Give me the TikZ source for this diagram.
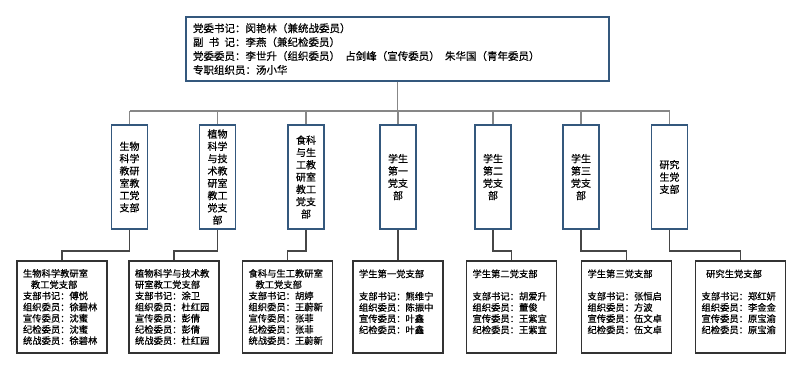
\documentclass[tikz,border=0pt]{standalone}
\usepackage{fontspec}
\setmainfont{Noto Sans CJK SC}[FakeBold=0.6]
\usetikzlibrary{calc}
\definecolor{boxblue}{RGB}{52,88,125}
\definecolor{bargray}{RGB}{135,135,135}
\definecolor{elbgray}{RGB}{70,70,70}
\definecolor{boxgray}{RGB}{50,50,50}
\tikzset{
  topbox/.style={draw=boxblue, line width=1.3pt, minimum width=423pt, minimum height=64pt,
    text width=409pt, inner xsep=7pt, align=left, font=\fontsize{10.5}{13.9}\selectfont},
  midbox/.style={draw=boxblue, line width=1.3pt, minimum width=36pt, minimum height=104pt,
    inner sep=0pt, align=center, font=\fontsize{10}{12.3}\selectfont},
  lowbox/.style={draw=boxgray, line width=1.1pt, minimum width=90pt, minimum height=92pt,
    text width=78pt, inner xsep=6pt, align=left, font=\fontsize{9.3}{11.2}\selectfont},
  barline/.style={draw=bargray, line width=1.2pt},
  elbline/.style={draw=elbgray, line width=1.2pt},
}
\begin{document}
\begin{tikzpicture}[x=1pt,y=-1pt]
\useasboundingbox (0,0) rectangle (799,368);
\node[topbox] (top) at (397.5,49) {党委书记：闵艳林（兼统战委员）\\
副\hspace{0.5em}书\hspace{0.5em}记：李燕（兼纪检委员）\\
党委委员：李世升（组织委员）\hspace{0.5em}占剑峰（宣传委员）\hspace{0.5em}朱华国（青年委员）\\
专职组织员：汤小华};

\node[midbox] (m1) at (129.5,177) {生物\\科学\\教研\\室教\\工党\\支部};
\node[midbox] (m2) at (217.5,177) {植物\\科学\\与技\\术教\\研室\\教工\\党支\\部};
\node[midbox] (m3) at (306,177) {食科\\与生\\工教\\研室\\教工\\党支\\部};
\node[midbox] (m4) at (398,177) {学生\\第一\\党支\\部};
\node[midbox] (m5) at (493,177) {学生\\第二\\党支\\部};
\node[midbox] (m6) at (581,177) {学生\\第三\\党支\\部};
\node[midbox] (m7) at (669.5,177) {研究\\生党\\支部};

\node[lowbox] (b1) at (62,307) {生物科学教研室\\\hspace*{0.85em}教工党支部\\支部书记：傅悦\\组织委员：徐碧林\\宣传委员：沈蜜\\纪检委员：沈蜜\\统战委员：徐碧林};
\node[lowbox] (b2) at (174,307) {植物科学与技术教\\研室教工党支部\\支部书记：涂卫\\组织委员：杜红园\\宣传委员：彭倩\\纪检委员：彭倩\\统战委员：杜红园};
\node[lowbox] (b3) at (287.5,307) {食科与生工教研室\\\hspace*{0.75em}教工党支部\\支部书记：胡婷\\组织委员：王蔚新\\宣传委员：张菲\\纪检委员：张菲\\统战委员：王蔚新};
\node[lowbox] (b4) at (398,307) {学生第一党支部\\\mbox{}\\支部书记：熊维宁\\组织委员：陈振中\\宣传委员：叶鑫\\纪检委员：叶鑫\\\mbox{}};
\node[lowbox] (b5) at (511.5,307) {学生第二党支部\\\mbox{}\\支部书记：胡爱升\\组织委员：董俊\\宣传委员：王紫宜\\纪检委员：王紫宜\\\mbox{}};
\node[lowbox] (b6) at (626.5,307) {学生第三党支部\\\mbox{}\\支部书记：张恒启\\组织委员：方波\\宣传委员：伍文卓\\纪检委员：伍文卓\\\mbox{}};
\node[lowbox] (b7) at (740.5,307) {\hspace*{0.5em}研究生党支部\\\mbox{}\\支部书记：郑红妍\\组织委员：李金金\\宣传委员：原宝渝\\纪检委员：原宝渝\\\mbox{}};

\coordinate (bar) at (398,111);
\coordinate (elb) at (398,251);
\draw[barline] (top.south) -- (top.south |- bar);
\draw[barline] (m1.north |- bar) -- (m7.north |- bar);
\foreach \i in {1,...,7}{
  \draw[barline] (m\i.north |- bar) -- (m\i.north);
  \draw[elbline] (m\i.south) -- (m\i.south |- elb) -| (b\i.north);
}
\end{tikzpicture}
\end{document}
